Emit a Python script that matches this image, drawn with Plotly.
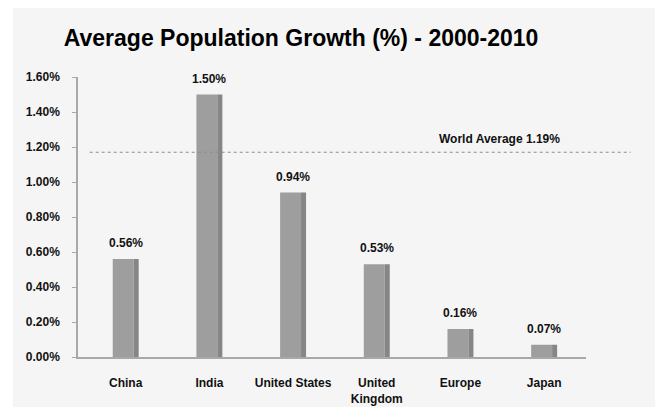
import plotly.graph_objects as go

categories = ["China", "India", "United States", "United<br>Kingdom", "Europe", "Japan"]
growth = [0.56, 1.50, 0.94, 0.53, 0.16, 0.07]
value_labels = ["0.56%", "1.50%", "0.94%", "0.53%", "0.16%", "0.07%"]
world_avg_line = 1.17
world_avg_text = "World Average 1.19%"
y_ticks = [0.0, 0.2, 0.4, 0.6, 0.8, 1.0, 1.2, 1.4, 1.6]
y_tick_labels = ["0.00%", "0.20%", "0.40%", "0.60%", "0.80%", "1.00%", "1.20%", "1.40%", "1.60%"]

FONT = "Liberation Sans, Arial, sans-serif"
xs = list(range(len(categories)))

fig = go.Figure()
fig.add_trace(go.Bar(x=xs, y=growth, width=0.25, offset=-0.155,
                     marker=dict(color="#9e9e9e", line=dict(width=0)), hoverinfo="skip"))
fig.add_trace(go.Bar(x=xs, y=growth, width=0.06, offset=0.095,
                     marker=dict(color="#868686", line=dict(width=0)), hoverinfo="skip"))
for xi, v, lab in zip(xs, growth, value_labels):
    fig.add_annotation(x=xi, y=v, xref="x", yref="y", text="<b>" + lab + "</b>",
                       showarrow=False, yanchor="bottom", yshift=7,
                       font=dict(family=FONT, size=12, color="#111111"))

# outer white frame / inner grey panel
fig.add_shape(type="rect", xref="paper", yref="paper", x0=-0.128, x1=1.2, y0=-0.25, y1=1.254,
              fillcolor="#f5f5f5", line=dict(width=0), layer="below")
# world average dashed line
fig.add_shape(type="line", xref="paper", yref="y", x0=0.023, x1=1.088,
              y0=world_avg_line, y1=world_avg_line,
              line=dict(color="#8c8c8c", width=1.2, dash="dot"))
fig.add_annotation(xref="paper", yref="y", x=0.953, y=world_avg_line, yshift=13,
                   text="<b>" + world_avg_text + "</b>", showarrow=False,
                   font=dict(family=FONT, size=12, color="#111111"))

fig.update_layout(
    width=647, height=399,
    margin=dict(l=70, r=69, t=69, b=50),
    paper_bgcolor="white", plot_bgcolor="rgba(0,0,0,0)",
    barmode="overlay", showlegend=False,
    title=dict(text="<b>Average Population Growth (%) - 2000-2010</b>",
               x=0.453, xanchor="center", y=0.925, yanchor="middle",
               font=dict(family=FONT, size=23, color="#000000")),
    font=dict(family=FONT, color="#111111"),
    xaxis=dict(range=[-0.57, 5.5], tickmode="array", tickvals=xs, automargin=False,
               ticktext=["<b>" + c.replace("<br>", "</b><br><b>") + "</b>" for c in categories],
               showgrid=False, zeroline=False, showline=True, linecolor="#a8a8a8", linewidth=1.5,
               ticks="", tickfont=dict(family=FONT, size=12, color="#111111"),
               ticklabelstandoff=14),
    yaxis=dict(range=[0, 1.6], tickmode="array", tickvals=y_ticks, automargin=False,
               ticktext=["<b>" + t + "</b>" for t in y_tick_labels],
               showgrid=False, zeroline=False, showline=True, linecolor="#a8a8a8", linewidth=1.5,
               ticks="outside", ticklen=4, tickcolor="#a8a8a8",
               tickfont=dict(family=FONT, size=12, color="#111111"),
               ticklabelstandoff=10),
)

fig.write_html("out.html")
